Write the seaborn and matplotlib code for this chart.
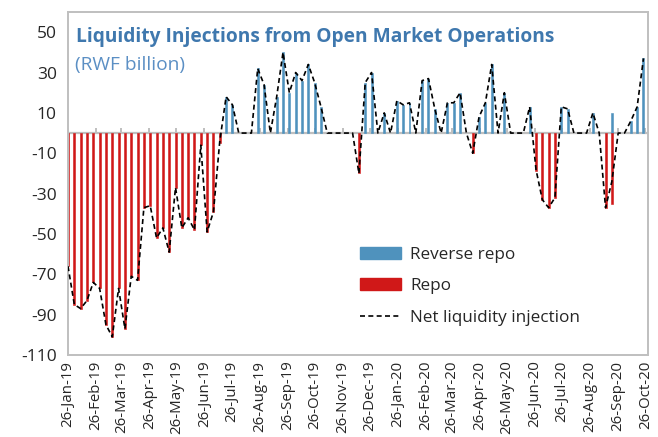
import numpy as np
import pandas as pd
import matplotlib
matplotlib.use('Agg')
import matplotlib.pyplot as plt
from matplotlib.patches import Patch
from matplotlib.lines import Line2D
import seaborn as sns

# weekly observations starting 26-Jan-19 (RWF billion)
start_date = pd.Timestamp('2019-01-26')
reverse_repo = [
    0, 0, 0, 0, 0, 0, 0, 0, 0, 0,
    0, 0, 0, 0, 0, 0, 0, 0, 0, 0,
    0, 0, 0, 0, 0, 18, 14, 0, 0, 0,
    32, 24, 0, 18, 40, 20, 30, 26, 34, 25,
    13, 0, 0, 0, 0, 0, 0, 25, 30, 0,
    10, 0, 16, 14, 15, 0, 26, 27, 12, 0,
    15, 15, 20, 0, 0, 8, 15, 34, 0, 20,
    0, 0, 0, 13, 0, 0, 0, 0, 13, 12,
    0, 0, 0, 10, 0, 0, 10, 0, 0, 6,
    13, 37,
]
repo = [
    -66, -85, -87, -83, -74, -77, -95, -101, -77, -97,
    -71, -73, -37, -36, -52, -47, -59, -27, -47, -42,
    -48, -6, -49, -39, -5, 0, 0, 0, 0, 0,
    0, 0, 0, 0, 0, 0, 0, 0, 0, 0,
    0, 0, 0, 0, 0, 0, -20, 0, 0, 0,
    0, 0, 0, 0, 0, 0, 0, 0, 0, 0,
    0, 0, 0, 0, -10, 0, 0, 0, 0, 0,
    0, 0, 0, 0, -19, -33, -37, -32, 0, 0,
    0, 0, 0, 0, 0, -37, -35, 0, 0, 0,
    0, 0,
]
net_injection = [
    -66, -85, -87, -83, -74, -77, -95, -101, -77, -97,
    -71, -73, -37, -36, -52, -47, -59, -27, -47, -42,
    -48, -6, -49, -39, -4, 18, 14, 0, 0, 0,
    32, 24, 0, 18, 40, 20, 30, 26, 34, 25,
    13, 0, 0, 0, 0, 0, -20, 25, 30, 0,
    10, 0, 16, 14, 15, 0, 26, 27, 12, 0,
    15, 15, 20, 0, -10, 8, 15, 34, 0, 20,
    0, 0, 0, 13, -18, -33, -37, -32, 13, 12,
    0, 0, 0, 10, 0, -37, -24, 0, 0, 6,
    13, 37,
]
month_ticks = pd.date_range('2019-01-26', '2020-10-26', freq=pd.DateOffset(months=1))
y_ticks = np.arange(-110, 51, 20)

BLUE = '#4F92BD'
RED = '#D01818'
GREY = '#BFBFBF'
TITLE_BLUE = '#3F78AE'

sns.set_theme(style='white')
plt.rcParams['font.family'] = ['Open Sans', 'DejaVu Sans']

df = pd.DataFrame({'reverse': reverse_repo, 'repo': repo, 'net': net_injection})
df['day'] = np.arange(len(df)) * 7
tick_days = [(d - start_date).days for d in month_ticks]

fig = plt.figure(figsize=(6.58, 4.37), dpi=100)
ax = fig.add_axes([68 / 658, 1 - 355 / 437, 580 / 658, 343 / 437])

ax.axhline(0, color=GREY, lw=1.6, zorder=1)
ax.vlines(tick_days, 0, 2.6, color=GREY, lw=1.4, zorder=1)

rr = df[df['reverse'] != 0]
rp = df[df['repo'] != 0]
ax.bar(rr['day'], rr['reverse'], width=2.2, color=BLUE, edgecolor=BLUE,
       linewidth=0.4, zorder=2)
ax.bar(rp['day'], rp['repo'], width=2.2, color=RED, edgecolor=RED,
       linewidth=0.4, zorder=2)
sns.lineplot(data=df, x='day', y='net', ax=ax, color='black', lw=1.2,
             linestyle=(0, (3, 2)), zorder=3)

ax.set_xlim(0, 642)
ax.set_ylim(-110, 60)
ax.set_yticks(y_ticks)
ax.set_yticklabels([str(v) for v in y_ticks], fontsize=12.5)
ax.set_xticks(tick_days)
ax.set_xticklabels([d.strftime('%d-%b-%y') for d in month_ticks],
                   rotation=90, fontsize=10.8)
ax.tick_params(axis='x', length=0, pad=4)
ax.tick_params(axis='y', direction='in', length=4, color=GREY, width=1.2, pad=8)
ax.set_xlabel('')
ax.set_ylabel('')
for s in ax.spines.values():
    s.set_color(GREY)
    s.set_linewidth(1.4)

ax.text(8 / 580, 1 - 25 / 343, 'Liquidity Injections from Open Market Operations',
        transform=ax.transAxes, fontsize=13.8, fontweight='bold',
        color=TITLE_BLUE, va='center', ha='left')
ax.text(7 / 580, 1 - 53 / 343, '(RWF billion)', transform=ax.transAxes,
        fontsize=13.8, color='#5B8FC4', va='center', ha='left')

handles = [Patch(color=BLUE, label='Reverse repo'),
           Patch(color=RED, label='Repo'),
           Line2D([], [], color='black', lw=1.2, linestyle=(0, (3, 2)),
                  label='Net liquidity injection')]
ax.legend(handles=handles, loc='upper left',
          bbox_to_anchor=(360 / 658, 1 - 247 / 437),
          bbox_transform=fig.transFigure, frameon=False, fontsize=12.3,
          handlelength=2.4, handleheight=0.7, handletextpad=0.55,
          labelspacing=0.9, borderpad=0, borderaxespad=0)

fig.savefig('out.png', dpi=100)
